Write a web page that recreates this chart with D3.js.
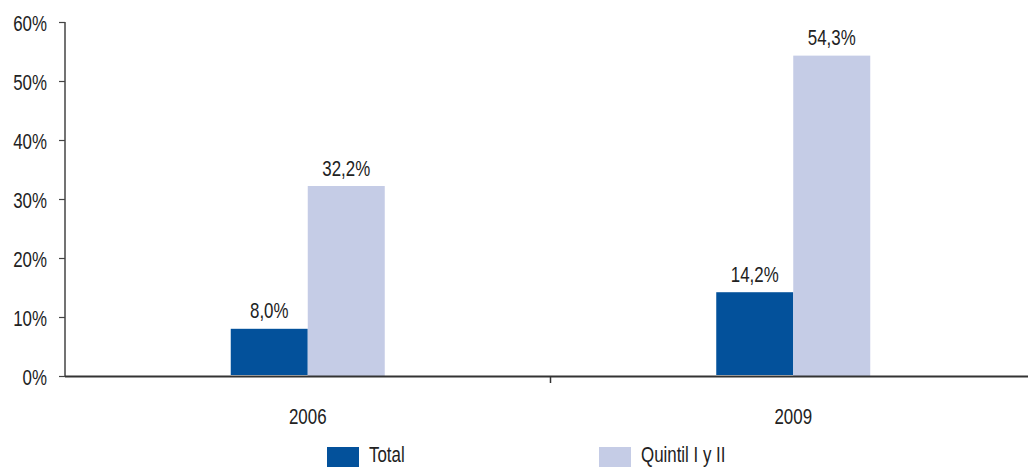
<!DOCTYPE html>
<html><head><meta charset="utf-8">
<script src="https://cdn.jsdelivr.net/npm/d3@7"></script>
<style>
body{margin:0;background:#fff;}
text{font-family:"Liberation Sans",Arial,sans-serif;fill:#222;}
</style></head><body>
<svg id="c" width="1029" height="467"></svg>
<script>
const categories = ["2006", "2009"];
const seriesNames = ["Total", "Quintil I y II"];
const totalValues = [8.0, 14.2];
const quintilValues = [32.2, 54.3];
const yTicks = [0, 10, 20, 30, 40, 50, 60];
const colors = ["#03519b", "#c5cce6"];

const FS = 22.5, SQ = 0.75;
function squeeze(sel) {
  sel.each(function () {
    const w = this.getComputedTextLength();
    d3.select(this).attr("textLength", w * SQ).attr("lengthAdjust", "spacingAndGlyphs");
  });
}

const svg = d3.select("#c");
const mLeft = 65, mRight = 1028, mTop = 22, mBottom = 376;

const x = d3.scaleBand().domain(categories).range([mLeft, 1036]);
const y = d3.scaleLinear().domain([0, 60]).range([mBottom, mTop]);
const barW = 77;
const sub = d3.scaleBand().domain(seriesNames).range([-barW, barW]);

const data = categories.map((c, i) => ({cat: c, vals: [totalValues[i], quintilValues[i]]}));

// y axis
const yAxis = svg.append("g").attr("transform", `translate(${mLeft},0)`)
  .call(d3.axisLeft(y).tickValues(yTicks).tickSize(6).tickPadding(12).tickFormat(d => d + "%"));
yAxis.select(".domain").remove();
yAxis.selectAll(".tick line").attr("stroke", "#444").attr("stroke-width", 1.2);
yAxis.selectAll(".tick text").attr("font-size", FS).attr("dy", "0.36em")
  .style("font-family", '"Liberation Sans",Arial,sans-serif').attr("fill", "#222").call(squeeze);
svg.append("line").attr("x1", mLeft).attr("x2", mLeft).attr("y1", mTop).attr("y2", mBottom)
  .attr("stroke", "#444").attr("stroke-width", 1.5);

// bars
const g = svg.append("g");
data.forEach(d => {
  const cx = x(d.cat) + x.bandwidth() / 2;
  d.vals.forEach((v, j) => {
    const bx = cx + sub(seriesNames[j]);
    g.append("rect").attr("x", bx).attr("y", y(v)).attr("width", sub.bandwidth())
      .attr("height", y(0) - y(v) - (j === 0 ? 1 : 0)).attr("fill", colors[j]);
    g.append("text").attr("x", bx + sub.bandwidth() / 2).attr("y", y(v) - 10.5)
      .attr("text-anchor", "middle").attr("font-size", FS)
      .text(v.toFixed(1).replace(".", ",") + "%").call(squeeze);
  });
});

// x axis
svg.append("line").attr("x1", mLeft).attr("x2", mRight).attr("y1", mBottom + 0.5).attr("y2", mBottom + 0.5)
  .attr("stroke", "#333").attr("stroke-width", 2);
svg.append("line").attr("x1", x("2009")).attr("x2", x("2009")).attr("y1", mBottom).attr("y2", mBottom + 7)
  .attr("stroke", "#333").attr("stroke-width", 1.5);
categories.forEach(c => {
  svg.append("text").attr("x", x(c) + x.bandwidth() / 2).attr("y", 424)
    .attr("text-anchor", "middle").attr("font-size", FS).text(c).call(squeeze);
});

// legend
const legX = [327, 599];
seriesNames.forEach((s, i) => {
  svg.append("rect").attr("x", legX[i]).attr("y", 447).attr("width", 32).attr("height", 20).attr("fill", colors[i]);
  svg.append("text").attr("x", legX[i] + 42).attr("y", 462).attr("font-size", FS).text(s).call(squeeze);
});
</script>
</body></html>
